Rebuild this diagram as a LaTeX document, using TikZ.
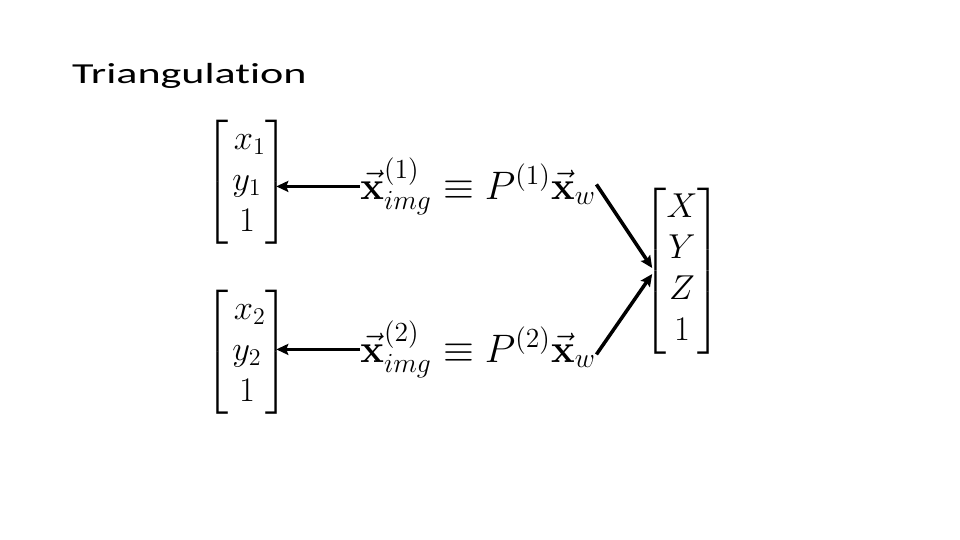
\documentclass[tikz,border=0pt]{standalone}
\usepackage{amsmath}
\usepackage[no-math]{fontspec}
\newfontfamily\titlefont[Ligatures=NoCommon]{Carlito}
\usetikzlibrary{arrows.meta}

\begin{document}
\begin{tikzpicture}[x=1pt, y=-1pt,
  every node/.style={inner sep=0pt, font=\fontsize{17}{20.5}\selectfont},
  mathbox/.style={scale=2, transform shape},
  projbox/.style={scale=2.3, transform shape, anchor=base west},
  conn/.style={line width=3.5pt, -{Stealth[length=12pt, width=11pt, inset=2pt]}},
  toimg/.style={conn, shorten >=-13pt}]
  \useasboundingbox (0,0) rectangle (960,540);

  \node[anchor=base west, font=\titlefont\fontsize{29}{34}\selectfont] (title) at (72,84) {\scalebox{1.52}[1]{Triangulation}};

  % image points
  \node[mathbox] (img1) at (247,182) {$\begin{bmatrix}\, x_1 \\ y_1 \\ 1 \end{bmatrix}$};
  \node[mathbox] (img2) at (247,352) {$\begin{bmatrix}\, x_2 \\ y_2 \\ 1 \end{bmatrix}$};

  % projections
  \node[projbox] (proj1) at (360,199) {$\vec{\mathbf{x}}^{(1)}_{img} \equiv P^{(1)}\vec{\mathbf{x}}_w$};
  \node[projbox] (proj2) at (360,362) {$\vec{\mathbf{x}}^{(2)}_{img} \equiv P^{(2)}\vec{\mathbf{x}}_w$};

  % world point
  \node[mathbox] (world) at (682,271) {$\begin{bmatrix} X \\ Y \\ Z \\ 1 \end{bmatrix}$};

  \draw[toimg] (proj1.west) -- (img1.east |- proj1.west);
  \draw[toimg] (proj2.west) -- (img2.east |- proj2.west);
  \draw[conn] ([yshift=2pt]proj1.east) -- ([xshift=9pt, yshift=3pt]world.west);
  \draw[conn] ([yshift=-5pt]proj2.east) -- ([xshift=9pt, yshift=-3pt]world.west);
\end{tikzpicture}
\end{document}
